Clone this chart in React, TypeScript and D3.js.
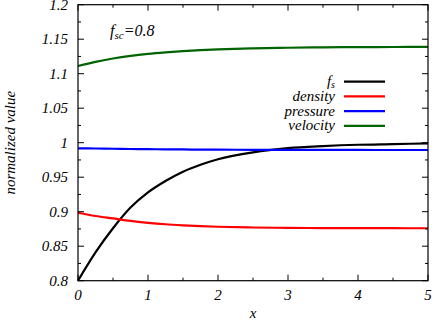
import React from 'react';
import * as d3 from 'd3';

// values
const xs = [0, 0.25, 0.5, 0.75, 1, 1.25, 1.5, 1.75, 2, 2.5, 3, 3.5, 4, 4.5, 5];
const fsVals = [0.8, 0.841, 0.876, 0.906, 0.928, 0.9445, 0.958, 0.968, 0.976, 0.986, 0.992, 0.995, 0.997, 0.998, 0.999];
const densityVals = [0.8985, 0.8938, 0.8902, 0.8866, 0.8839, 0.8818, 0.8803, 0.8791, 0.8782, 0.8771, 0.8766, 0.8763, 0.8762, 0.8761, 0.876];
const pressureVals = [0.9919, 0.9916, 0.9912, 0.9909, 0.9906, 0.9904, 0.9902, 0.99, 0.9899, 0.9897, 0.9896, 0.9895, 0.9895, 0.9894, 0.9894];
const velocityVals = [1.1112, 1.1172, 1.122, 1.1258, 1.1287, 1.1309, 1.1327, 1.1341, 1.1352, 1.1367, 1.1376, 1.1382, 1.1385, 1.1387, 1.1389];

const seriesNames = ['f_s', 'density', 'pressure', 'velocity'];
const seriesColors = ['#000000', '#ff0000', '#0000ff', '#006400'];

const xTicks = [0, 1, 2, 3, 4, 5];
const xMinor = [0.5, 1.5, 2.5, 3.5, 4.5];
const yTicks = [0.8, 0.85, 0.9, 0.95, 1, 1.05, 1.1, 1.15, 1.2];
const yMinor = [0.825, 0.875, 0.925, 0.975, 1.025, 1.075, 1.125, 1.175];

const W = 435, H = 324;
const left = 78, right = 428, top = 4.7, bottom = 280.7;
const txt = { fontFamily: 'Liberation Serif', fontStyle: 'italic', fontSize: 15 } as const;
const sub = { fontSize: 10 } as const;

export default function App() {
  const x = d3.scaleLinear().domain([0, 5]).range([left, right]);
  const y = d3.scaleLinear().domain([0.8, 1.2]).range([bottom, top]);

  const all = [fsVals, densityVals, pressureVals, velocityVals];
  const line = d3.line<number>()
    .x((_, i) => x(xs[i]))
    .y(d => y(d))
    .curve(d3.curveMonotoneX);

  const legX = 335, legY0 = 81.7, legStep = 14.7;

  return (
    <svg width={W} height={H} style={{ position: 'absolute', left: 0, top: 0, background: '#fff' }}>
      {all.map((vals, i) => (
        <path key={i} d={line(vals) || ''} fill="none" stroke={seriesColors[i]} strokeWidth={2.2} />
      ))}

      {/* ticks, mirrored on all sides */}
      <g stroke="#000" strokeWidth={1}>
        {xTicks.map(t => (
          <g key={'xt' + t}>
            <line x1={x(t)} x2={x(t)} y1={bottom} y2={bottom - 6} />
            <line x1={x(t)} x2={x(t)} y1={top} y2={top + 6} />
          </g>
        ))}
        {xMinor.map(t => (
          <g key={'xm' + t}>
            <line x1={x(t)} x2={x(t)} y1={bottom} y2={bottom - 3} />
            <line x1={x(t)} x2={x(t)} y1={top} y2={top + 3} />
          </g>
        ))}
        {yTicks.map(t => (
          <g key={'yt' + t}>
            <line x1={left} x2={left + 6} y1={y(t)} y2={y(t)} />
            <line x1={right} x2={right - 6} y1={y(t)} y2={y(t)} />
          </g>
        ))}
        {yMinor.map(t => (
          <g key={'ym' + t}>
            <line x1={left} x2={left + 3} y1={y(t)} y2={y(t)} />
            <line x1={right} x2={right - 3} y1={y(t)} y2={y(t)} />
          </g>
        ))}
      </g>
      <rect x={left} y={top} width={right - left} height={bottom - top} fill="none" stroke="#000" strokeWidth={1.2} />

      <g fill="#000">
        {yTicks.map(t => (
          <text key={'yl' + t} style={txt} x={left - 10} y={y(t) + 5} textAnchor="end">{d3.format('~g')(t)}</text>
        ))}
        {xTicks.map(t => (
          <text key={'xl' + t} style={txt} x={x(t)} y={300} textAnchor="middle">{t}</text>
        ))}
        <text style={txt} x={(left + right) / 2} y={318} textAnchor="middle">x</text>
        <text style={txt} transform={`translate(15,${(top + bottom) / 2}) rotate(-90)`} textAnchor="middle">normalized value</text>

        <text style={{ ...txt, fontSize: 16 }} x={110} y={36}>f<tspan style={{ fontSize: 11 }} dy={3}>sc</tspan><tspan dy={-3}>=0.8</tspan></text>

        {seriesNames.map((n, i) => {
          const ly = legY0 + i * legStep;
          return (
            <g key={n}>
              <text style={txt} x={legX} y={ly + 4.5} textAnchor="end">
                {n === 'f_s' ? (<>f<tspan style={sub} dy={1.5}>s</tspan></>) : n}
              </text>
              <line x1={344} x2={385} y1={ly} y2={ly} stroke={seriesColors[i]} strokeWidth={2.2} />
            </g>
          );
        })}
      </g>
    </svg>
  );
}
